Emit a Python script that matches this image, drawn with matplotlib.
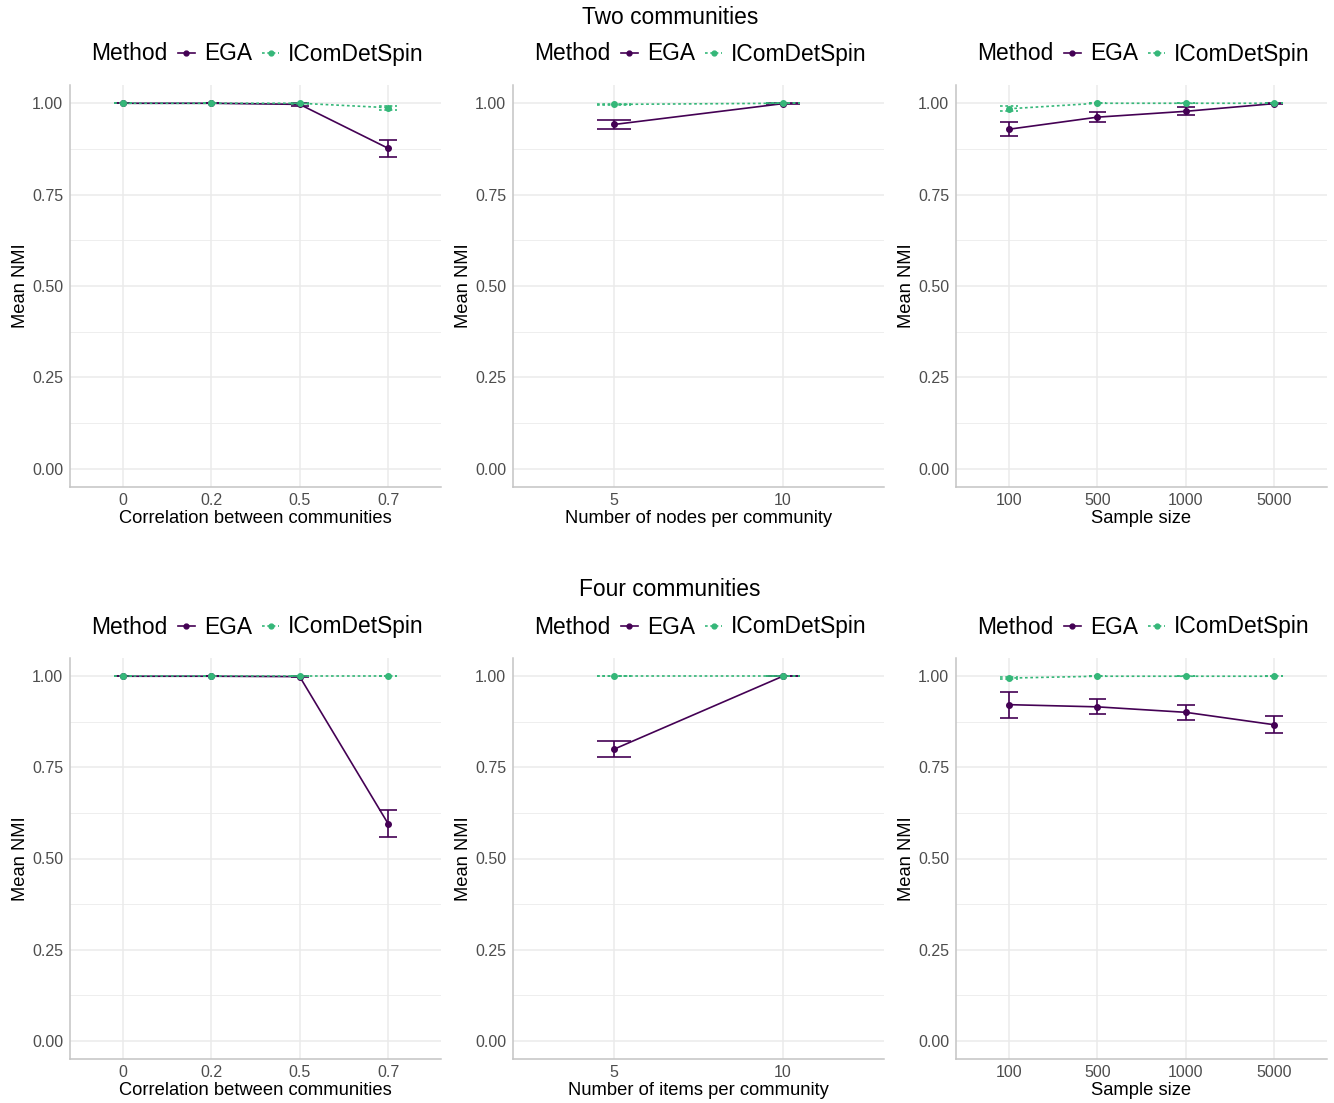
import numpy as np
import matplotlib.pyplot as plt
from matplotlib.lines import Line2D

plt.rcParams['font.family'] = ['Liberation Sans', 'DejaVu Sans']

EGA_COL = '#440154'
ICD_COL = '#35b779'
DOT = (0, (1.6, 1.6))

# Two communities
two_corr_labels = ['0', '0.2', '0.5', '0.7']
two_corr_ega = [1.0, 1.0, 0.997, 0.877]
two_corr_ega_lo = [1.0, 1.0, 0.992, 0.853]
two_corr_ega_hi = [1.0, 1.0, 1.0, 0.900]
two_corr_icd = [1.0, 1.0, 1.0, 0.988]
two_corr_icd_lo = [1.0, 1.0, 0.999, 0.982]
two_corr_icd_hi = [1.0, 1.0, 1.0, 0.993]

two_nodes_labels = ['5', '10']
two_nodes_ega = [0.942, 0.999]
two_nodes_ega_lo = [0.930, 0.997]
two_nodes_ega_hi = [0.954, 1.0]
two_nodes_icd = [0.997, 1.0]
two_nodes_icd_lo = [0.995, 1.0]
two_nodes_icd_hi = [0.999, 1.0]

two_n_labels = ['100', '500', '1000', '5000']
two_n_ega = [0.929, 0.962, 0.978, 0.999]
two_n_ega_lo = [0.910, 0.948, 0.968, 0.998]
two_n_ega_hi = [0.948, 0.976, 0.989, 1.0]
two_n_icd = [0.985, 1.0, 1.0, 1.0]
two_n_icd_lo = [0.979, 1.0, 1.0, 1.0]
two_n_icd_hi = [0.992, 1.0, 1.0, 1.0]

# Four communities
four_corr_labels = ['0', '0.2', '0.5', '0.7']
four_corr_ega = [1.0, 1.0, 0.999, 0.596]
four_corr_ega_lo = [1.0, 1.0, 0.998, 0.558]
four_corr_ega_hi = [1.0, 1.0, 1.0, 0.634]
four_corr_icd = [1.0, 1.0, 1.0, 1.0]
four_corr_icd_lo = [1.0, 1.0, 1.0, 1.0]
four_corr_icd_hi = [1.0, 1.0, 1.0, 1.0]

four_items_labels = ['5', '10']
four_items_ega = [0.800, 1.0]
four_items_ega_lo = [0.778, 1.0]
four_items_ega_hi = [0.822, 1.0]
four_items_icd = [1.0, 1.0]
four_items_icd_lo = [1.0, 1.0]
four_items_icd_hi = [1.0, 1.0]

four_n_labels = ['100', '500', '1000', '5000']
four_n_ega = [0.922, 0.916, 0.901, 0.867]
four_n_ega_lo = [0.886, 0.897, 0.879, 0.843]
four_n_ega_hi = [0.957, 0.937, 0.922, 0.891]
four_n_icd = [0.995, 1.0, 1.0, 1.0]
four_n_icd_lo = [0.993, 1.0, 1.0, 1.0]
four_n_icd_hi = [0.997, 1.0, 1.0, 1.0]


def draw_series(ax, x, mean, lo, hi, col, ls):
    ax.vlines(x, lo, hi, colors=col, linestyles=ls, linewidth=1.2, zorder=3)
    ax.hlines(lo, x - 0.1, x + 0.1, colors=col, linestyles=ls, linewidth=1.2, zorder=3)
    ax.hlines(hi, x - 0.1, x + 0.1, colors=col, linestyles=ls, linewidth=1.2, zorder=3)
    ax.plot(x, mean, color=col, linestyle=ls, linewidth=1.2, zorder=3)
    ax.plot(x, mean, 'o', color=col, markersize=4, zorder=4)


def panel(ax, labels, ega, ega_lo, ega_hi, icd, icd_lo, icd_hi, xlabel):
    x = np.arange(len(labels))
    draw_series(ax, x, np.array(ega), np.array(ega_lo), np.array(ega_hi), EGA_COL, '-')
    draw_series(ax, x, np.array(icd), np.array(icd_lo), np.array(icd_hi), ICD_COL, DOT)
    ax.set_xlim(-0.6, len(labels) - 0.4)
    ax.set_ylim(-0.05, 1.05)
    ax.set_xticks(x)
    ax.set_xticklabels(labels)
    ax.set_yticks([0, 0.25, 0.5, 0.75, 1.0])
    ax.set_yticklabels(['0.00', '0.25', '0.50', '0.75', '1.00'])
    ax.set_yticks([0.125, 0.375, 0.625, 0.875], minor=True)
    ax.grid(True, which='major', color='#ebebeb', linewidth=1.1, zorder=0)
    ax.grid(True, which='minor', axis='y', color='#ebebeb', linewidth=0.6, zorder=0)
    ax.set_axisbelow(True)
    ax.tick_params(which='both', length=0, labelsize=11.5, labelcolor='#4d4d4d')
    ax.tick_params(axis='x', pad=4)
    ax.tick_params(axis='y', pad=5)
    for s in ['top', 'right']:
        ax.spines[s].set_visible(False)
    for s in ['left', 'bottom']:
        ax.spines[s].set_color('#c4c4c4')
        ax.spines[s].set_linewidth(1.1)
    ax.set_xlabel(xlabel, fontsize=13.2, labelpad=2)
    ax.set_ylabel('Mean NMI', fontsize=13.2, labelpad=2)

    handles = [Line2D([], [], linestyle='none', label='Method'),
               Line2D([], [], color=EGA_COL, linestyle='-', marker='o', markersize=3.5, linewidth=1.2, label='EGA'),
               Line2D([], [], color=ICD_COL, linestyle=DOT, marker='o', markersize=3.5, linewidth=1.2, label='IComDetSpin')]
    bb = ax.get_position()
    fig = ax.figure
    cx = (bb.x0 + bb.x1) / 2 - 11 / fig.bbox.width
    cy = bb.y1 + 31 / fig.bbox.height
    ax.legend(handles=handles, ncol=3, loc='center', bbox_to_anchor=(cx, cy),
              bbox_transform=fig.transFigure, frameon=False, fontsize=16.4,
              handlelength=0.75, handletextpad=0.4, columnspacing=0.45,
              borderpad=0, borderaxespad=0)


W, H = 1334, 1103
fig = plt.figure(figsize=(W / 100, H / 100), dpi=100)

lefts = [70, 513, 956]
aw = 371
rows = [(85, 487), (658, 1059)]

panels = [
    [(two_corr_labels, two_corr_ega, two_corr_ega_lo, two_corr_ega_hi, two_corr_icd, two_corr_icd_lo, two_corr_icd_hi, 'Correlation between communities'),
     (two_nodes_labels, two_nodes_ega, two_nodes_ega_lo, two_nodes_ega_hi, two_nodes_icd, two_nodes_icd_lo, two_nodes_icd_hi, 'Number of nodes per community'),
     (two_n_labels, two_n_ega, two_n_ega_lo, two_n_ega_hi, two_n_icd, two_n_icd_lo, two_n_icd_hi, 'Sample size')],
    [(four_corr_labels, four_corr_ega, four_corr_ega_lo, four_corr_ega_hi, four_corr_icd, four_corr_icd_lo, four_corr_icd_hi, 'Correlation between communities'),
     (four_items_labels, four_items_ega, four_items_ega_lo, four_items_ega_hi, four_items_icd, four_items_icd_lo, four_items_icd_hi, 'Number of items per community'),
     (four_n_labels, four_n_ega, four_n_ega_lo, four_n_ega_hi, four_n_icd, four_n_icd_lo, four_n_icd_hi, 'Sample size')],
]

for r, (top, bottom) in enumerate(rows):
    for c, left in enumerate(lefts):
        ax = fig.add_axes([left / W, 1 - bottom / H, aw / W, (bottom - top) / H])
        panel(ax, *panels[r][c])

fig.text(670 / W, 1 - 17 / H, 'Two communities', ha='center', va='center', fontsize=16.4)
fig.text(670 / W, 1 - 590 / H, 'Four communities', ha='center', va='center', fontsize=16.4)

fig.savefig('out.png', dpi=100, facecolor='white')
